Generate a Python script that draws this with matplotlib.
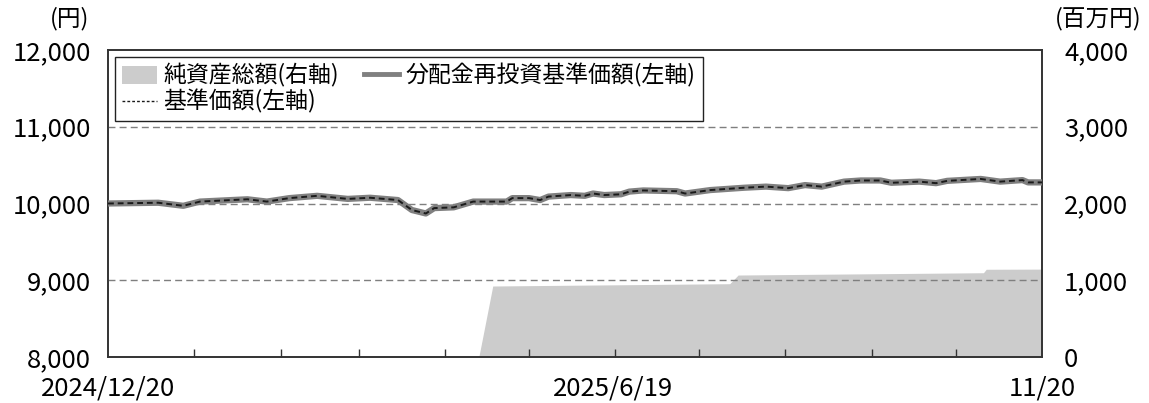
import matplotlib
matplotlib.use("Agg")
import matplotlib.pyplot as plt
from matplotlib.patches import Patch
from matplotlib.lines import Line2D
import pandas as pd

plt.rcParams['font.family'] = ['Noto Sans CJK JP', 'DejaVu Sans']

# NAV (reinvested) and NAV, left axis (yen)
nav_dates = ["2024-12-20", "2025-01-07", "2025-01-16", "2025-01-22", "2025-02-08",
             "2025-02-15", "2025-02-23", "2025-03-05", "2025-03-16", "2025-03-24",
             "2025-04-03", "2025-04-08", "2025-04-13", "2025-04-16", "2025-04-23",
             "2025-04-30", "2025-05-12", "2025-05-14", "2025-05-20", "2025-05-24",
             "2025-05-27", "2025-06-04", "2025-06-09", "2025-06-12", "2025-06-16",
             "2025-06-22", "2025-06-25", "2025-06-30", "2025-07-12", "2025-07-15",
             "2025-07-24", "2025-08-05", "2025-08-13", "2025-08-21", "2025-08-27",
             "2025-09-02", "2025-09-10", "2025-09-16", "2025-09-23", "2025-09-27",
             "2025-10-07", "2025-10-13", "2025-10-17", "2025-10-29", "2025-11-05",
             "2025-11-13", "2025-11-15", "2025-11-20"]
nav_reinvested = [10000, 10010, 9970, 10025, 10055,
                  10025, 10070, 10100, 10060, 10075,
                  10045, 9915, 9870, 9940, 9950,
                  10025, 10025, 10070, 10070, 10045,
                  10090, 10110, 10100, 10130, 10110,
                  10120, 10155, 10170, 10160, 10130,
                  10175, 10205, 10220, 10200, 10240,
                  10220, 10285, 10300, 10300, 10270,
                  10285, 10265, 10295, 10320, 10285,
                  10305, 10275, 10275]
nav = list(nav_reinvested)  # no distributions: identical series

# Net assets, right axis (million yen)
assets_dates = ["2024-12-20", "2025-05-02", "2025-05-07", "2025-07-31", "2025-08-03",
                "2025-10-30", "2025-10-31", "2025-11-20"]
net_assets = [0, 0, 925, 955, 1068, 1098, 1143, 1145]

left_ticks = [8000, 9000, 10000, 11000, 12000]
right_ticks = [0, 1000, 2000, 3000, 4000]
month_ticks = ["2025-01-20", "2025-02-20", "2025-03-20", "2025-04-20", "2025-05-20",
               "2025-06-20", "2025-07-20", "2025-08-20", "2025-09-20", "2025-10-20"]
date_labels = ["2024-12-20", "2025-06-19", "2025-11-20"]
date_label_text = ["2024/12/20", "2025/6/19", "11/20"]

nd = pd.to_datetime(nav_dates)
ad = pd.to_datetime(assets_dates)

FS = 18.5

fig = plt.figure(figsize=(11.49, 4.03), dpi=100)
ax = fig.add_axes([108/1149, 1-357/403, (1042-108)/1149, (357-50)/403])
ax2 = ax.twinx()
ax.set_zorder(ax2.get_zorder() + 1)
ax.patch.set_visible(False)

fill_color = "#cccccc"
ax2.fill_between(ad, net_assets, 0, color=fill_color, linewidth=0)
ax2.set_ylim(0, 4000)
ax2.set_yticks(right_ticks)
ax2.set_yticklabels([f"{v:,}" for v in right_ticks])

ax.set_ylim(8000, 12000)
ax.set_yticks(left_ticks)
ax.set_yticklabels([f"{v:,}" for v in left_ticks])
for v in [9000, 10000, 11000]:
    ax.axhline(v, color="#7f7f7f", lw=1.0, dashes=(5, 3), zorder=1)

ax.plot(nd, nav_reinvested, color="#808080", lw=4.5, solid_capstyle="butt", zorder=3)
ax.plot(nd, nav, color="#1a1a1a", lw=1.4, dashes=(3, 2), zorder=4)

ax.set_xlim(pd.Timestamp("2024-12-20"), pd.Timestamp("2025-11-20"))
ax.set_xticks(pd.to_datetime(date_labels))
ax.set_xticklabels(date_label_text)
ax.set_xticks(pd.to_datetime(month_ticks), minor=True)
ax.tick_params(axis="x", which="major", length=0, pad=13, labelsize=FS)
ax.tick_params(axis="x", which="minor", direction="in", length=6, width=1, color="#333333")
ax.tick_params(axis="y", length=0, pad=12, labelsize=FS)
ax2.tick_params(axis="y", length=0, pad=16, labelsize=FS)

for sp in list(ax.spines.values()) + list(ax2.spines.values()):
    sp.set_color("#333333")
    sp.set_linewidth(1.2)

fig.text(70/1149, 1-19/403, "(円)", fontsize=17, ha="center", va="center")
fig.text(1098/1149, 1-19/403, "(百万円)", fontsize=17, ha="center", va="center")

handles = [Patch(facecolor=fill_color, edgecolor="none"),
           Line2D([], [], color="#1a1a1a", lw=1.0, linestyle=(0, (2, 1.5))),
           Line2D([], [], color="#808080", lw=3.5)]
labels = ["純資産総額(右軸)", "基準価額(左軸)", "分配金再投資基準価額(左軸)"]
leg = ax.legend(handles, labels, ncol=2, loc="upper left", bbox_to_anchor=(0.008, 0.978),
                borderaxespad=0, fontsize=16.5, frameon=True, fancybox=False,
                edgecolor="#222222", framealpha=1, handlelength=1.5, handleheight=0.8,
                handletextpad=0.3, columnspacing=1.1, labelspacing=0.08, borderpad=0.3)
leg.get_frame().set_linewidth(1.0)

fig.savefig("out.png", dpi=100)
